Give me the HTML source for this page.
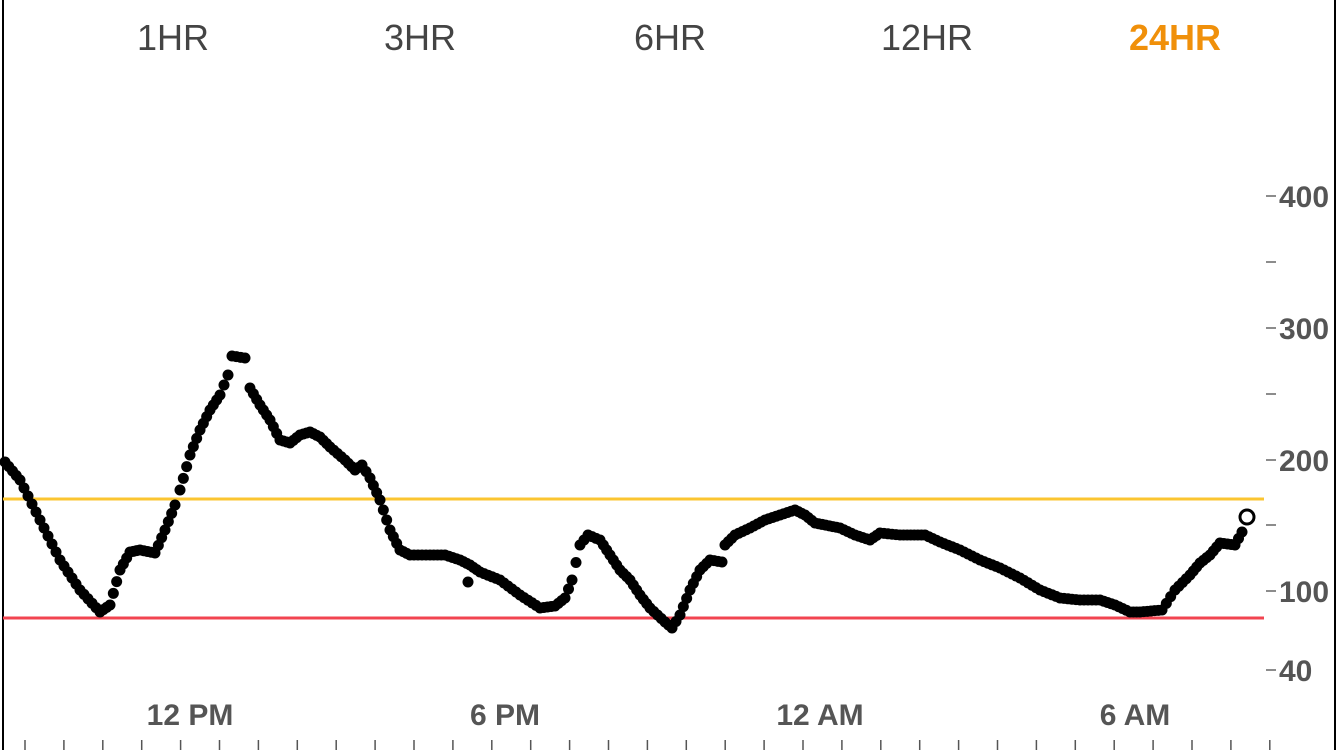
<!DOCTYPE html>
<html><head><meta charset="utf-8"><style>
html,body{margin:0;padding:0;background:#fff;}
body{width:1337px;height:750px;overflow:hidden;font-family:"Liberation Sans",sans-serif;}
</style></head><body>
<svg id="s" width="1337" height="750" xmlns="http://www.w3.org/2000/svg" style="position:absolute;left:0;top:0">
<line x1="3" y1="0" x2="3" y2="750" stroke="#000" stroke-width="2"/>
<line x1="1335" y1="0" x2="1335" y2="750" stroke="#000" stroke-width="2"/>
<g font-size="36" fill="#444" text-anchor="middle">
<text x="173" y="50">1HR</text><text x="420" y="50">3HR</text><text x="670" y="50">6HR</text><text x="927" y="50">12HR</text>
<text x="1175" y="50" fill="#f0900a" font-weight="bold">24HR</text>
</g>
<line x1="3" y1="499" x2="1264" y2="499" stroke="#fbc530" stroke-width="3"/>
<line x1="3" y1="618" x2="1264" y2="618" stroke="#f24450" stroke-width="3"/>
<g stroke="#666" stroke-width="1.5">
<line x1="1266" y1="196" x2="1276" y2="196"/><line x1="1266" y1="262" x2="1276" y2="262"/>
<line x1="1266" y1="328" x2="1276" y2="328"/><line x1="1266" y1="394" x2="1276" y2="394"/>
<line x1="1266" y1="460" x2="1276" y2="460"/><line x1="1266" y1="525" x2="1276" y2="525"/>
<line x1="1266" y1="591" x2="1276" y2="591"/><line x1="1266" y1="670" x2="1276" y2="670"/>
</g>
<g font-size="30" font-weight="bold" fill="#555">
<text x="1279" y="207">400</text><text x="1279" y="339">300</text><text x="1279" y="471">200</text>
<text x="1279" y="602">100</text><text x="1279" y="681">40</text>
</g>
<g font-size="30" font-weight="bold" fill="#555" text-anchor="middle">
<text x="190" y="725">12 PM</text><text x="505" y="725">6 PM</text><text x="820" y="725">12 AM</text><text x="1135" y="725">6 AM</text>
</g>
<g id="ticks" stroke="#555" stroke-width="1.5"></g>
<g id="dots" fill="#000"></g>
<circle cx="1247" cy="517" r="7" fill="#fff" stroke="#000" stroke-width="3"/>
</svg>
<script>
var ns="http://www.w3.org/2000/svg";
var t=document.getElementById("ticks");
for(var k=0;k<=32;k++){var x=25+k*38.9;var l=document.createElementNS(ns,"line");l.setAttribute("x1",x);l.setAttribute("x2",x);l.setAttribute("y1",740);l.setAttribute("y2",750);t.appendChild(l);}
var p=[[5,462],[20,480],[40,520],[60,560],[80,590],[100,612],[110,605],[120,570],[130,552],[140,550],[155,553],[165,530],[175,505],[180,490],[190,455],[200,430],[210,410],[220,395],[228,375],[232,356],[245,358],[250,388],[260,405],[270,420],[280,440],[290,443],[300,435],[310,432],[320,437],[330,447],[345,460],[355,470],[362,465],[370,478],[380,500],[390,530],[400,550],[410,555],[430,555],[445,555],[460,560],[470,565],[480,572],[500,580],[520,595],[540,608],[555,606],[565,598],[572,580],[580,545],[588,535],[600,540],[610,555],[620,570],[630,580],[640,595],[650,608],[665,622],[672,628],[680,615],[690,590],[700,570],[710,560],[722,562],[725,545],[735,535],[750,528],[765,520],[780,515],[795,510],[805,515],[815,523],[840,528],[855,535],[870,540],[880,533],[900,535],[925,535],[940,542],[960,550],[980,560],[1000,568],[1020,578],[1040,590],[1060,598],[1080,600],[1100,600],[1115,605],[1130,612],[1140,612],[1162,610],[1175,590],[1190,575],[1200,563],[1210,555],[1220,543],[1235,545],[1242,532]];
var d=document.getElementById("dots");
function dot(x,y){var c=document.createElementNS(ns,"circle");c.setAttribute("cx",x);c.setAttribute("cy",y);c.setAttribute("r",5.5);d.appendChild(c);}
for(var i=0;i<p.length-1;i++){var a=p[i],b=p[i+1];var n=Math.max(1,Math.round((b[0]-a[0])/3.8));for(var j=0;j<n;j++){dot(a[0]+(b[0]-a[0])*j/n,a[1]+(b[1]-a[1])*j/n);}}
dot(1242,532);dot(468,582);
</script>
</body></html>
